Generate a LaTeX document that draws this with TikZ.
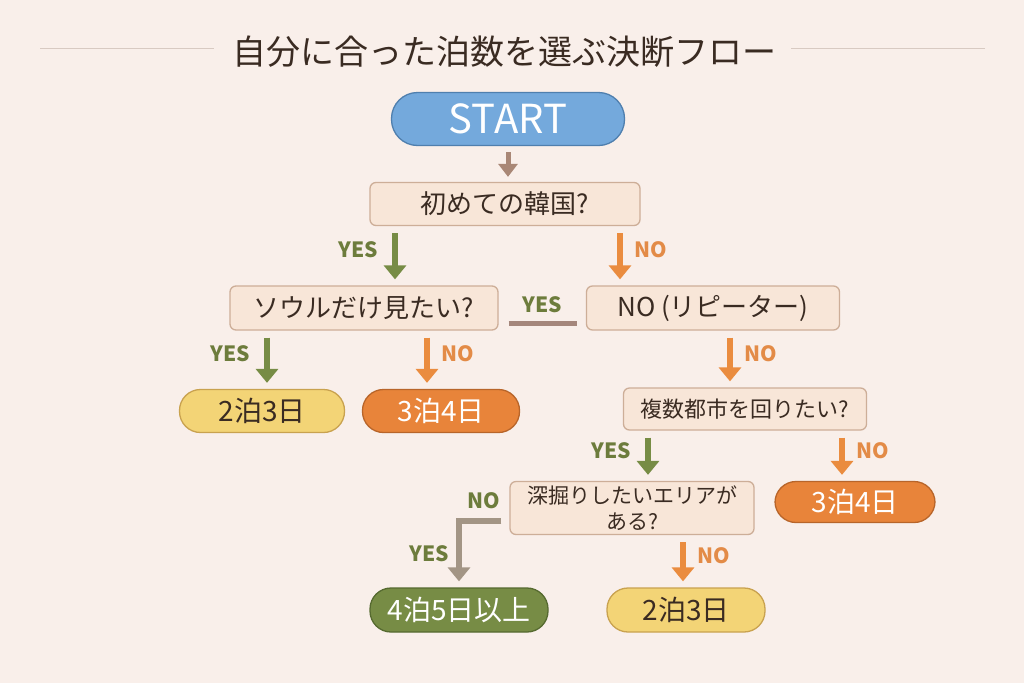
\documentclass[tikz,border=0pt]{standalone}
\usepackage{fontspec}
\setmainfont{Noto Sans CJK JP}
\usetikzlibrary{arrows.meta}
\definecolor{bg}{HTML}{F9EFEA}
\definecolor{ink}{HTML}{3A2B22}
\definecolor{boxfill}{HTML}{F8E6D8}
\definecolor{boxline}{HTML}{CDAE98}
\definecolor{startfill}{HTML}{74A9DC}
\definecolor{startline}{HTML}{4F7FAE}
\definecolor{yel}{HTML}{F3D476}
\definecolor{yelline}{HTML}{C9A24F}
\definecolor{org}{HTML}{E8843A}
\definecolor{orgline}{HTML}{B8652A}
\definecolor{grn}{HTML}{778C45}
\definecolor{grnline}{HTML}{566A30}
\definecolor{orgarr}{HTML}{EA8C3F}
\definecolor{brn}{HTML}{A98776}
\definecolor{barc}{HTML}{A5877C}
\definecolor{linkc}{HTML}{A39585}
\definecolor{yestxt}{HTML}{6D7C3C}
\definecolor{notxt}{HTML}{E38B47}
\definecolor{rulec}{HTML}{D8CAC2}
\newcommand\fsz[1]{\fontsize{#1}{#1}\selectfont}

\begin{document}
\begin{tikzpicture}[x=1pt,y=-1pt,inner sep=0pt,>={Triangle[width=22pt,length=14pt]},
  qbox/.style={draw=boxline,line width=1.3pt,fill=boxfill,rounded corners=6pt,text=ink,font=\fsz{26}},
  pill/.style={draw,line width=1.3pt,rounded corners=21pt,minimum height=43pt,font=\fsz{28}},
  yesarr/.style={->,draw=grn,line width=6pt,shorten <=7pt,shorten >=6pt},
  noarr/.style={->,draw=orgarr,line width=6pt,shorten <=7pt,shorten >=6pt},
  yeslab/.style={left=14pt,pos=0.4,text=yestxt,font=\fsz{21}\bfseries},
  nolab/.style={right=11pt,pos=0.4,text=notxt,font=\fsz{21}\bfseries}]
\fill[bg] (0,0) rectangle (1024,683);
\node[font=\fsz{34},text=ink] (title) at (504,52) {自分に合った泊数を選ぶ決断フロー};
\coordinate (tl) at (40,48); \coordinate (tr) at (985,48);
\draw[rulec,line width=1pt,shorten >=18pt] (tl) -- (title.west |- tl);
\draw[rulec,line width=1pt,shorten >=15pt] (tr) -- (title.east |- tr);
\node[pill,fill=startfill,draw=startline,text=white,font=\fsz{40},minimum width=233pt,minimum height=53pt,rounded corners=26pt] (start) at (508,119) {START};
\node[qbox,minimum width=270pt,minimum height=43pt] (q1) at (505,204) {初めての韓国?};
\node[qbox,minimum width=268pt,minimum height=44pt] (q2) at (364,308) {ソウルだけ見たい?};
\node[qbox,minimum width=253pt,minimum height=44pt] (q3) at (713,308) {NO (リピーター)};
\node[qbox,minimum width=243pt,minimum height=42pt,font=\fsz{22}] (q4) at (745,409) {複数都市を回りたい?};
\node[qbox,minimum width=244pt,minimum height=53pt,font=\fontsize{21}{26}\selectfont,align=center] (q5) at (632,508) {深掘りしたいエリアが\\ある?};
\node[pill,fill=yel,draw=yelline,text=ink,minimum width=165pt] (r1) at (262,411) {2泊3日};
\node[pill,fill=org,draw=orgline,text=white,minimum width=157pt] (r2) at (441,411) {3泊4日};
\node[pill,fill=org,draw=orgline,text=white,minimum width=160pt,minimum height=41pt] (r3) at (855,502) {3泊4日};
\node[pill,fill=grn,draw=grnline,text=white,minimum width=178pt,minimum height=44pt] (r4) at (459,610) {4泊5日以上};
\node[pill,fill=yel,draw=yelline,text=ink,minimum width=158pt,minimum height=44pt] (r5) at (686,610) {2泊3日};
\draw[->,brn,line width=5pt,shorten <=6pt,shorten >=5pt,>={Triangle[width=19pt,length=13pt]}] (start.south) -- (q1.north -| start.south);
\draw[yesarr] (q1.south -| 395,0) -- node[yeslab] {YES} (q2.north -| 395,0);
\draw[noarr] (q1.south -| 620,0) -- node[nolab] {NO} (q3.north -| 620,0);
\draw[barc,line width=5pt,shorten <=10pt,shorten >=9pt] (q2.east |- 0,323) -- node[above=8pt,text=yestxt,font=\fsz{21}\bfseries] {YES} (q3.west |- 0,323);
\draw[yesarr] (q2.south -| 267,0) -- node[yeslab] {YES} (r1.north -| 267,0);
\draw[noarr] (q2.south -| 427,0) -- node[nolab] {NO} (r2.north -| 427,0);
\draw[noarr] (q3.south -| 730,0) -- node[nolab] {NO} (q4.north -| 730,0);
\draw[yesarr] (q4.south -| 648,0) -- node[yeslab] {YES} (q5.north -| 648,0);
\draw[noarr] (q4.south -| 842,0) -- node[nolab] {NO} (r3.north -| 842,0);
\draw[noarr] (q5.south -| 683,0) -- node[nolab] {NO} (r5.north -| 683,0);
\draw[->,linkc,line width=6pt,shorten <=8pt,shorten >=6pt] (q5.west |- 0,521) -| node[pos=0.25,above=9pt,text=yestxt,font=\fsz{21}\bfseries] {NO} node[pos=0.75,left=7pt,text=yestxt,font=\fsz{21}\bfseries] {YES} (r4.north);
\end{tikzpicture}
\end{document}
